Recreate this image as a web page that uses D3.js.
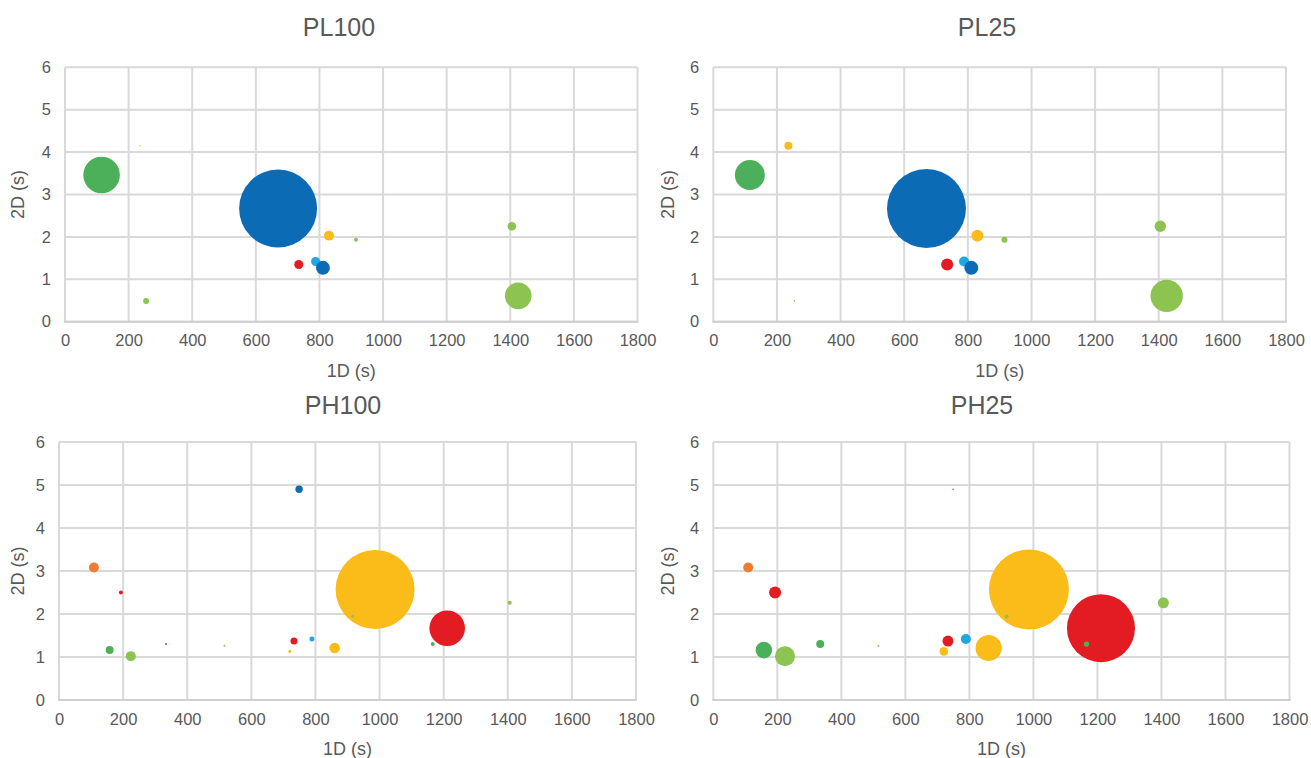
<!DOCTYPE html>
<html>
<head>
<meta charset="utf-8">
<script src="https://cdn.jsdelivr.net/npm/d3@7"></script>
<style>
  html, body { margin: 0; padding: 0; background: #fff; }
  svg { display: block; font-family: "Liberation Sans", Arial, sans-serif; }
</style>
</head>
<body>
<svg id="chart" width="1311" height="758"></svg>
<script>
// ---------- data ----------
const panelNames = ["PL100", "PL25", "PH100", "PH25"];
const xTicks = [0, 200, 400, 600, 800, 1000, 1200, 1400, 1600, 1800];
const yTicks = [0, 1, 2, 3, 4, 5, 6];
const xAxisTitle = "1D (s)";
const yAxisTitle = "2D (s)";

// PL group (shared positions)
const plX      = [670, 115, 1425, 236, 830, 915, 735, 788, 811, 255, 1405];
const plY      = [2.67, 3.46, 0.61, 4.15, 2.03, 1.93, 1.35, 1.42, 1.27, 0.49, 2.25];
const plColor  = ["#0B6BB5", "#4CAF5A", "#8DC351", "#FBBC19", "#FBBC19", "#8DC351", "#E31B23", "#1EA7E1", "#0B6BB5", "#8DC351", "#8DC351"];
const plSize100 = [95, 20.9, 11.1, 0.04, 1.56, 0.25, 1.27, 1.27, 3.06, 0.56, 1.16];
const plSize25  = [97.5, 14.1, 16.4, 1.0, 2.25, 0.56, 2.25, 1.56, 3.06, 0.04, 2.03];

// PH group (shared positions)
const phX      = [986, 1211, 109, 193, 749, 158, 224, 334, 516, 733, 789, 720, 860, 916, 1166, 1406];
const phY      = [2.57, 1.67, 3.08, 2.50, 4.90, 1.16, 1.02, 1.30, 1.26, 1.37, 1.42, 1.13, 1.21, 1.94, 1.30, 2.26];
const phColor  = ["#FBBC19", "#E31B23", "#EE7D31", "#E31B23", "#0B6BB5", "#4CAF5A", "#8DC351", "#4CAF5A", "#8DC351", "#E31B23", "#1EA7E1", "#FBBC19", "#FBBC19", "#8DC351", "#4CAF5A", "#8DC351"];
const phSize100 = [97.5, 19.8, 1.56, 0.25, 0.86, 1.0, 1.56, 0.09, 0.06, 0.77, 0.39, 0.14, 1.76, 0.14, 0.25, 0.25];
const phSize25  = [100, 72.3, 1.56, 2.25, 0.03, 4.3, 6.25, 1.0, 0.06, 1.9, 1.56, 1.16, 10.6, 0.25, 0.46, 1.9];

// ---------- layout ----------
const layout = [
  { left: 65,    right: 637.5, top: 67.3,  bottom: 321.7, titleX: 339, titleY: 36,  ytX: 18 },
  { left: 713.3, right: 1286,  top: 67.3,  bottom: 321.7, titleX: 987, titleY: 36,  ytX: 668 },
  { left: 59,    right: 636,   top: 442,   bottom: 700,   titleX: 343, titleY: 414, ytX: 18 },
  { left: 713.3, right: 1289.5,top: 442,   bottom: 700,   titleX: 982, titleY: 414, ytX: 668 }
];

const panelData = [
  { x: plX, y: plY, c: plColor, s: plSize100 },
  { x: plX, y: plY, c: plColor, s: plSize25 },
  { x: phX, y: phY, c: phColor, s: phSize100 },
  { x: phX, y: phY, c: phColor, s: phSize25 }
];

const svg = d3.select("#chart");
const rScale = d3.scaleSqrt().domain([0, 100]).range([0, 40]);
const textColor = "#595959";
const gridColor = "#D9D9D9";

panelNames.forEach((name, i) => {
  const L = layout[i];
  const D = panelData[i];
  const xs = d3.scaleLinear().domain([0, 1800]).range([L.left, L.right]);
  const ys = d3.scaleLinear().domain([0, 6]).range([L.bottom, L.top]);
  const g = svg.append("g");

  // gridlines
  g.append("g").selectAll("line.h").data(yTicks).join("line")
    .attr("x1", xs(0)).attr("x2", xs(1800))
    .attr("y1", d => ys(d)).attr("y2", d => ys(d))
    .attr("stroke", gridColor).attr("stroke-width", 2);
  g.append("g").selectAll("line.v").data(xTicks).join("line")
    .attr("x1", d => xs(d)).attr("x2", d => xs(d))
    .attr("y1", ys(0)).attr("y2", ys(6))
    .attr("stroke", gridColor).attr("stroke-width", 2);

  // axes (labels only)
  const xAxis = d3.axisBottom(xs).tickValues(xTicks).tickSize(0).tickPadding(13).tickFormat(d3.format("d"));
  const yAxis = d3.axisLeft(ys).tickValues(yTicks).tickSize(0).tickPadding(14).tickFormat(d3.format("d"));
  const gx = g.append("g").attr("transform", `translate(0,${L.bottom})`).call(xAxis);
  const gy = g.append("g").attr("transform", `translate(${L.left},0)`).call(yAxis);
  [gx, gy].forEach(a => {
    a.select(".domain").remove();
    a.selectAll("text").attr("fill", textColor).attr("font-size", 16.5)
      .attr("font-family", "'Liberation Sans', Arial, sans-serif");
  });
  g.append("line").attr("x1", xs(0) - 1).attr("x2", xs(1800) + 1)
    .attr("y1", ys(0)).attr("y2", ys(0)).attr("stroke", "#CFCFCF").attr("stroke-width", 2);

  // bubbles
  const pts = D.x.map((v, k) => ({ x: v, y: D.y[k], c: D.c[k], s: D.s[k] }));
  g.append("g").selectAll("circle").data(pts).join("circle")
    .attr("cx", d => xs(d.x)).attr("cy", d => ys(d.y))
    .attr("r", d => rScale(d.s))
    .attr("fill", d => d.c);

  // titles
  g.append("text").attr("x", L.titleX).attr("y", L.titleY)
    .attr("text-anchor", "middle").attr("font-size", 25).attr("fill", textColor)
    .text(name);
  g.append("text").attr("x", (L.left + L.right) / 2).attr("y", L.bottom + 55)
    .attr("text-anchor", "middle").attr("font-size", 18).attr("fill", textColor)
    .text(xAxisTitle);
  g.append("text")
    .attr("transform", `translate(${L.ytX + 6},${(L.top + L.bottom) / 2}) rotate(-90)`)
    .attr("text-anchor", "middle").attr("font-size", 18).attr("fill", textColor)
    .text(yAxisTitle);
});
</script>
</body>
</html>
